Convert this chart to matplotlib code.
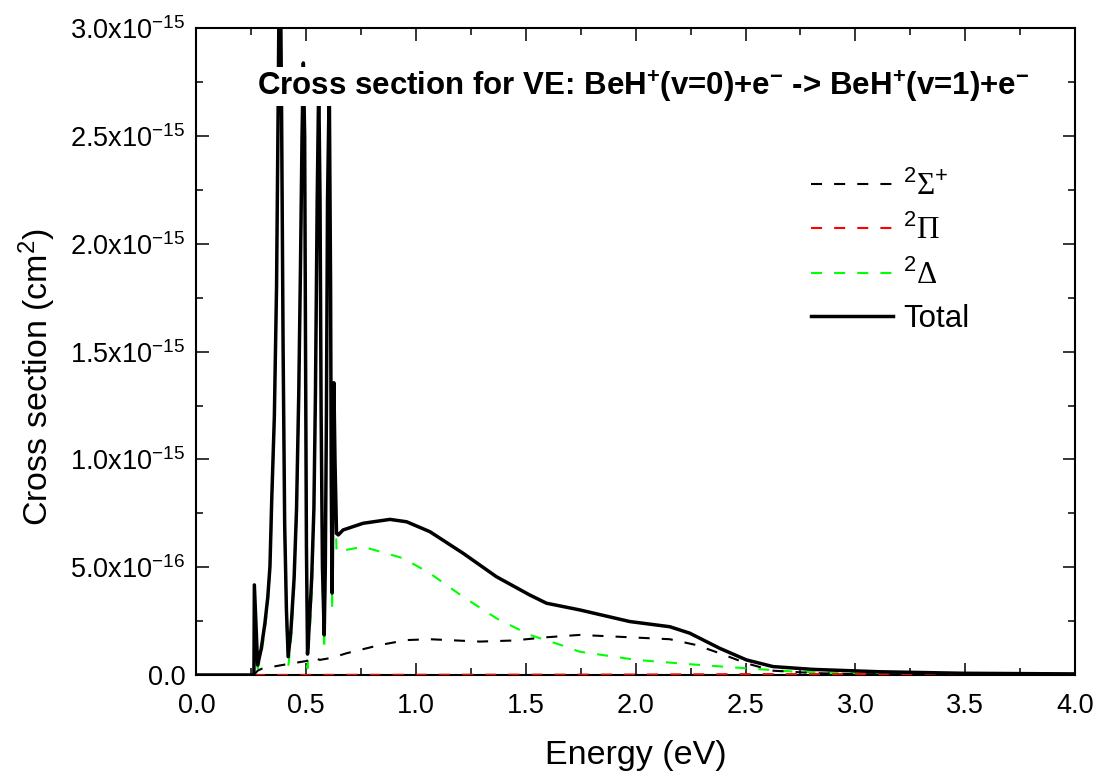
import matplotlib
matplotlib.use("Agg")
import matplotlib.pyplot as plt
from matplotlib.ticker import MultipleLocator, FixedLocator, FixedFormatter

plt.rcParams['font.family'] = ['Liberation Sans', 'DejaVu Sans']
plt.rcParams['mathtext.fontset'] = 'custom'
plt.rcParams['mathtext.rm'] = 'Liberation Sans'
plt.rcParams['mathtext.it'] = 'Liberation Sans:italic'
plt.rcParams['mathtext.bf'] = 'Liberation Sans:bold'

# ---- data (cross sections in units of 1e-15 cm^2) ----
e_total = [0.0, 0.262, 0.264, 0.279, 0.295, 0.312, 0.325, 0.335, 0.343, 0.355, 0.365,
           0.372, 0.380, 0.388, 0.395, 0.402, 0.410, 0.418, 0.430, 0.445, 0.456, 0.466,
           0.474, 0.481, 0.487, 0.493, 0.497, 0.501, 0.506, 0.515, 0.525, 0.535, 0.542,
           0.550, 0.557, 0.563, 0.568, 0.574, 0.582, 0.587, 0.592, 0.597, 0.605, 0.611,
           0.614, 0.618, 0.622, 0.626, 0.631, 0.638, 0.646, 0.668, 0.759, 0.881, 0.957,
           1.063, 1.214, 1.366, 1.518, 1.594, 1.745, 1.973, 2.155, 2.246, 2.382, 2.504,
           2.625, 2.807, 3.110, 3.489, 4.0]
s_total = [0.0, 0.0, 0.418, 0.046, 0.12, 0.24, 0.36, 0.503, 0.81, 1.2, 1.8,
           2.6, 3.6, 2.6, 1.5, 0.7, 0.3, 0.085, 0.2, 0.45, 0.77, 1.3,
           1.9, 2.5, 2.84, 2.5, 1.5, 0.6, 0.097, 0.25, 0.45, 0.77, 1.3,
           2.2, 2.75, 2.2, 1.2, 0.5, 0.186, 0.5, 1.2, 2.2, 2.75, 1.8,
           0.9, 0.38, 0.9, 1.356, 1.0, 0.657, 0.650, 0.673, 0.704, 0.722, 0.711,
           0.665, 0.565, 0.456, 0.371, 0.333, 0.302, 0.248, 0.224, 0.194, 0.124, 0.070,
           0.039, 0.026, 0.015, 0.008, 0.005]

e_sigma = [0.262, 0.279, 0.300, 0.418, 0.502, 0.520, 0.535, 0.550, 0.562, 0.618, 0.684,
           0.835, 0.957, 1.063, 1.290, 1.442, 1.594, 1.745, 1.973, 2.155, 2.276, 2.382,
           2.504, 2.625, 2.805, 3.0, 3.5, 4.0]
s_sigma = [0.0, 0.020, 0.030, 0.051, 0.065, 0.080, 0.068, 0.075, 0.070, 0.080, 0.101,
           0.139, 0.162, 0.166, 0.155, 0.160, 0.175, 0.186, 0.175, 0.166, 0.139, 0.101,
           0.054, 0.020, 0.009, 0.004, 0.002, 0.001]

e_pi = [0.262, 1.0, 2.0, 2.5, 3.0, 3.5, 4.0]
s_pi = [0.0, 0.001, 0.002, 0.004, 0.004, 0.002, 0.001]

e_delta = [0.262, 0.264, 0.279, 0.295, 0.312, 0.325, 0.335, 0.343, 0.355, 0.365,
           0.372, 0.380, 0.388, 0.395, 0.402, 0.410, 0.418, 0.430, 0.445, 0.456, 0.466,
           0.474, 0.481, 0.487, 0.493, 0.497, 0.501, 0.506, 0.515, 0.525, 0.535, 0.542,
           0.550, 0.557, 0.563, 0.568, 0.574, 0.582, 0.587, 0.592, 0.597, 0.605, 0.611,
           0.614, 0.618, 0.622, 0.626, 0.631, 0.638, 0.759, 0.941, 1.063, 1.214, 1.366,
           1.518, 1.669, 1.745, 2.003, 2.246, 2.504, 2.731, 3.110, 3.5, 4.0]
s_delta = [0.0, 0.40, 0.030, 0.09, 0.21, 0.33, 0.47, 0.77, 1.16, 1.76,
           2.56, 3.55, 2.55, 1.45, 0.65, 0.25, 0.034, 0.15, 0.40, 0.71, 1.24,
           1.84, 2.44, 2.78, 2.44, 1.44, 0.54, 0.031, 0.18, 0.38, 0.70, 1.23,
           2.13, 2.68, 2.13, 1.13, 0.43, 0.114, 0.43, 1.13, 2.13, 2.68, 1.72,
           0.82, 0.30, 0.82, 1.28, 0.92, 0.572, 0.595, 0.542, 0.472, 0.363, 0.263,
           0.186, 0.136, 0.108, 0.070, 0.050, 0.031, 0.015, 0.005, 0.002, 0.001]

x_ticks = [0.0, 0.5, 1.0, 1.5, 2.0, 2.5, 3.0, 3.5, 4.0]
x_ticklabels = ["0.0", "0.5", "1.0", "1.5", "2.0", "2.5", "3.0", "3.5", "4.0"]
y_ticks = [0.0, 0.5, 1.0, 1.5, 2.0, 2.5, 3.0]
y_ticklabels = ["0.0", r"5.0x10$^{-16}$", r"1.0x10$^{-15}$", r"1.5x10$^{-15}$",
                r"2.0x10$^{-15}$", r"2.5x10$^{-15}$", r"3.0x10$^{-15}$"]
labels = [r"$^{2}$Σ$^{+}$", r"$^{2}$Π", r"$^{2}$Δ", "Total"]

fig = plt.figure(figsize=(10.97, 7.78), dpi=100)
ax = fig.add_axes([0.179, 0.1324, 0.801, 0.831])

dash = (5.3, 5.8)
l1, = ax.plot(e_sigma, s_sigma, color='black', lw=1.5, dashes=dash, zorder=3)
l2, = ax.plot(e_pi, s_pi, color='#ff0000', lw=1.5, dashes=dash, zorder=3)
l3, = ax.plot(e_delta, s_delta, color='#00ff00', lw=1.5, dashes=dash, zorder=2)
l4, = ax.plot(e_total, s_total, color='black', lw=2.5, zorder=4)

ax.set_xlim(0, 4.0)
ax.set_ylim(0, 3.0)
ax.xaxis.set_major_locator(FixedLocator(x_ticks))
ax.xaxis.set_major_formatter(FixedFormatter(x_ticklabels))
ax.xaxis.set_minor_locator(MultipleLocator(0.25))
ax.yaxis.set_major_locator(FixedLocator(y_ticks))
ax.yaxis.set_major_formatter(FixedFormatter(y_ticklabels))
ax.yaxis.set_minor_locator(MultipleLocator(0.25))
ax.tick_params(which='both', direction='in', top=True, right=True, width=1.1)
ax.tick_params(which='major', length=9, labelsize=19.5, pad=8)
ax.tick_params(which='minor', length=5)
ax.tick_params(axis='x', which='major', pad=13)
for sp in ax.spines.values():
    sp.set_linewidth(1.5)

ax.set_xlabel("Energy (eV)", fontsize=24.5, labelpad=15)
ax.set_ylabel(r"Cross section (cm$^{2}$)", fontsize=24.5)
ax.yaxis.set_label_coords(-0.158, 0.461)

ax.text(0.509, 0.91,
        r"Cross section for VE: BeH$^{\mathbf{+}}$(v=0)+e$^{\mathbf{-}}$ -> BeH$^{\mathbf{+}}$(v=1)+e$^{\mathbf{-}}$",
        transform=ax.transAxes, ha='center', va='center', fontsize=22.5, fontweight='bold',
        bbox=dict(facecolor='white', edgecolor='none', pad=1), zorder=10)

leg = ax.legend([l1, l2, l3, l4], labels, loc='upper left', bbox_to_anchor=(0.699, 0.7805),
                frameon=False, fontsize=22.5, handlelength=2.64, handletextpad=0.32,
                labelspacing=0.42, borderaxespad=0, borderpad=0)
for t in leg.get_texts()[:3]:
    t.set_fontfamily(['Liberation Serif', 'DejaVu Serif'])

fig.savefig("out.png", dpi=100)
